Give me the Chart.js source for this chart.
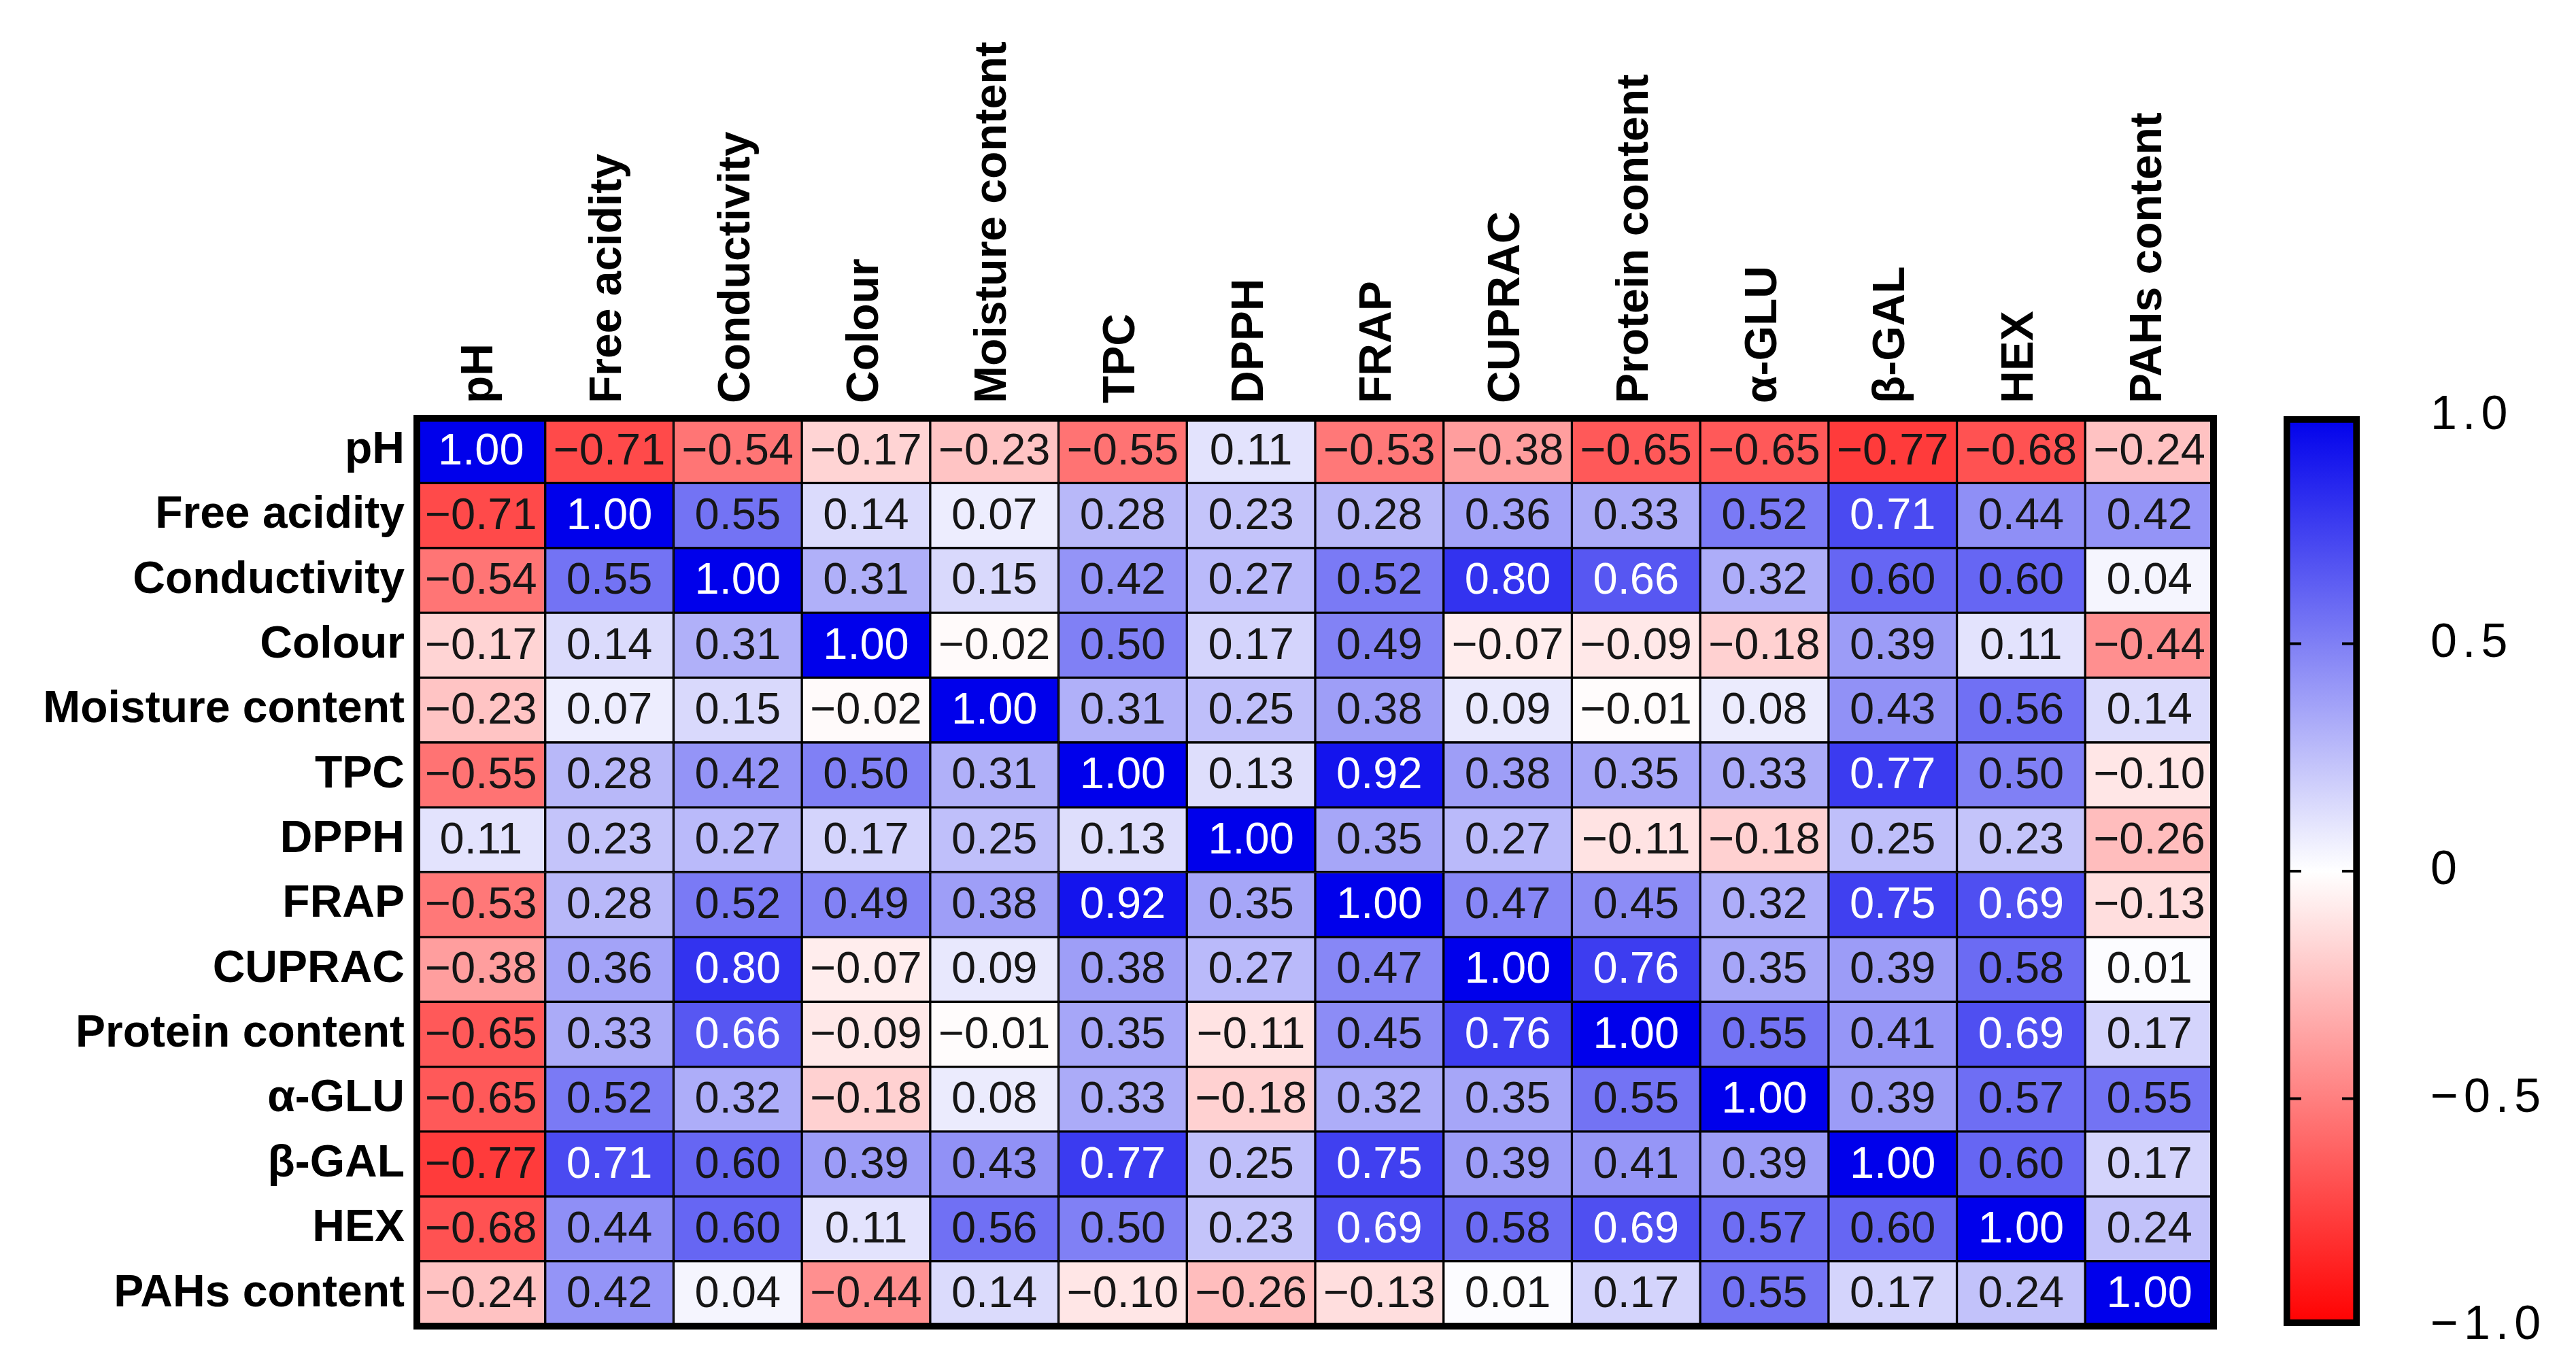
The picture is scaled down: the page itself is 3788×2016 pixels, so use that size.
<!DOCTYPE html>
<html>
<head>
<meta charset="utf-8">
<script src="https://cdn.jsdelivr.net/npm/chart.js@4.4.1/dist/chart.umd.min.js"></script>
<style>
  html, body { margin: 0; padding: 0; background: #fff; }
  #wrap { position: relative; width: 3788px; height: 2016px; overflow: hidden; }
  #heat { position: absolute; left: 0; top: 0; }
  #bar { position: absolute; left: 3300px; top: 466px; }
</style>
</head>
<body>
<div id="wrap">
  <canvas id="heat" width="3300" height="2016"></canvas>
  <canvas id="bar" width="488" height="1630"></canvas>
</div>
<script>
// variable names, same order on both axes
const variables = ['pH', 'Free acidity', 'Conductivity', 'Colour', 'Moisture content', 'TPC', 'DPPH',
    'FRAP', 'CUPRAC', 'Protein content', '\u03b1-GLU', '\u03b2-GAL', 'HEX', 'PAHs content'];

// correlation rows
const pH = [1.00, -0.71, -0.54, -0.17, -0.23, -0.55, 0.11, -0.53, -0.38, -0.65, -0.65, -0.77, -0.68, -0.24];
const freeAcidity = [-0.71, 1.00, 0.55, 0.14, 0.07, 0.28, 0.23, 0.28, 0.36, 0.33, 0.52, 0.71, 0.44, 0.42];
const conductivity = [-0.54, 0.55, 1.00, 0.31, 0.15, 0.42, 0.27, 0.52, 0.80, 0.66, 0.32, 0.60, 0.60, 0.04];
const colour = [-0.17, 0.14, 0.31, 1.00, -0.02, 0.50, 0.17, 0.49, -0.07, -0.09, -0.18, 0.39, 0.11, -0.44];
const moisture = [-0.23, 0.07, 0.15, -0.02, 1.00, 0.31, 0.25, 0.38, 0.09, -0.01, 0.08, 0.43, 0.56, 0.14];
const tpc = [-0.55, 0.28, 0.42, 0.50, 0.31, 1.00, 0.13, 0.92, 0.38, 0.35, 0.33, 0.77, 0.50, -0.10];
const dpph = [0.11, 0.23, 0.27, 0.17, 0.25, 0.13, 1.00, 0.35, 0.27, -0.11, -0.18, 0.25, 0.23, -0.26];
const frap = [-0.53, 0.28, 0.52, 0.49, 0.38, 0.92, 0.35, 1.00, 0.47, 0.45, 0.32, 0.75, 0.69, -0.13];
const cuprac = [-0.38, 0.36, 0.80, -0.07, 0.09, 0.38, 0.27, 0.47, 1.00, 0.76, 0.35, 0.39, 0.58, 0.01];
const protein = [-0.65, 0.33, 0.66, -0.09, -0.01, 0.35, -0.11, 0.45, 0.76, 1.00, 0.55, 0.41, 0.69, 0.17];
const aGlu = [-0.65, 0.52, 0.32, -0.18, 0.08, 0.33, -0.18, 0.32, 0.35, 0.55, 1.00, 0.39, 0.57, 0.55];
const bGal = [-0.77, 0.71, 0.60, 0.39, 0.43, 0.77, 0.25, 0.75, 0.39, 0.41, 0.39, 1.00, 0.60, 0.17];
const hex = [-0.68, 0.44, 0.60, 0.11, 0.56, 0.50, 0.23, 0.69, 0.58, 0.69, 0.57, 0.60, 1.00, 0.24];
const pahs = [-0.24, 0.42, 0.04, -0.44, 0.14, -0.10, -0.26, -0.13, 0.01, 0.17, 0.55, 0.17, 0.24, 1.00];

const matrix = [pH, freeAcidity, conductivity, colour, moisture, tpc, dpph, frap, cuprac, protein, aGlu, bGal, hex, pahs];

// colour scale ticks
const scaleTicks = [-1, -0.5, 0, 0.5, 1];

const FONT = '"Liberation Sans", Arial, sans-serif';

// -1 red, 0 white, +1 blue
function cellColor(v) {
    if (v >= 0) {
        const k = Math.round(255 * (1 - v));
        return `rgb(${k},${k},${Math.round(255 - 20 * v)})`;
    }
    const k = Math.round(255 * (1 + v));
    return `rgb(255,${k},${k})`;
}

function fmt(v) {
    const s = Math.abs(v).toFixed(2);
    return v < 0 ? '\u2212' + s : s;
}

// write the numbers into every cell and frame the grid
const cellText = {
    id: 'cellText',
    afterDatasetsDraw(chart) {
        const ctx = chart.ctx;
        ctx.save();
        ctx.font = `65px ${FONT}`;
        ctx.textAlign = 'center';
        ctx.textBaseline = 'middle';
        chart.data.datasets.forEach((ds, r) => {
            const meta = chart.getDatasetMeta(r);
            meta.data.forEach((bar, c) => {
                const v = matrix[r][c];
                ctx.fillStyle = v > 0.65 ? '#ffffff' : '#161616';
                ctx.fillText(fmt(v), bar.x, (bar.y + bar.base) / 2 + 2);
            });
        });
        const a = chart.chartArea;
        ctx.lineWidth = 10;
        ctx.strokeStyle = '#000';
        ctx.strokeRect(a.left, a.top, a.right - a.left, a.bottom - a.top);
        ctx.restore();
    }
};

new Chart(document.getElementById('heat'), {
    type: 'bar',
    data: {
        labels: variables,
        datasets: matrix.map((row, r) => ({
            label: variables[r],
            data: row.map(() => 1),
            backgroundColor: row.map(v => cellColor(v)),
            borderColor: '#000',
            borderWidth: 2,
            borderSkipped: false,
            barPercentage: 1,
            categoryPercentage: 1
        }))
    },
    options: {
        responsive: false,
        devicePixelRatio: 1,
        animation: false,
        layout: { padding: { left: 0, right: 45, top: 0, bottom: 66 } },
        plugins: { legend: { display: false }, tooltip: { enabled: false } },
        scales: {
            x: {
                position: 'top',
                stacked: true,
                grid: { display: false, drawTicks: false },
                border: { display: false },
                ticks: {
                    minRotation: 90,
                    maxRotation: 90,
                    padding: 22,
                    labelOffset: 78,
                    color: '#000',
                    font: { family: FONT, size: 66, weight: 'bold' }
                },
                afterFit: s => { s.height = 615; }
            },
            y: {
                stacked: true,
                min: 0,
                max: 14,
                reverse: true,
                display: false
            },
            rows: {
                type: 'category',
                axis: 'y',
                position: 'left',
                labels: variables,
                offset: true,
                grid: { display: false, drawTicks: false },
                border: { display: false },
                ticks: {
                    padding: 18,
                    color: '#000',
                    font: { family: FONT, size: 66, weight: 'bold' }
                },
                afterFit: s => { s.width = 613; }
            }
        }
    },
    plugins: [cellText]
});

// colour bar
const barTicks = {
    id: 'barTicks',
    beforeDraw(chart) {
        chart.ctx.letterSpacing = '8px';
    },
    afterDatasetsDraw(chart) {
        const ctx = chart.ctx;
        const y = chart.scales.y;
        const a = chart.chartArea;
        ctx.save();
        ctx.strokeStyle = '#000';
        ctx.lineWidth = 4;
        [-0.5, 0, 0.5].forEach(v => {
            const py = y.getPixelForValue(v);
            ctx.beginPath();
            ctx.moveTo(a.left + 8, py); ctx.lineTo(a.left + 26, py);
            ctx.moveTo(a.right - 8, py); ctx.lineTo(a.right - 26, py);
            ctx.stroke();
        });
        ctx.restore();
    }
};

new Chart(document.getElementById('bar'), {
    type: 'bar',
    data: {
        labels: [''],
        datasets: [{
            data: [[scaleTicks[0], scaleTicks[scaleTicks.length - 1]]],
            backgroundColor: ctx => {
                const a = ctx.chart.chartArea;
                if (!a) return '#fff';
                const g = ctx.chart.ctx.createLinearGradient(0, a.bottom, 0, a.top);
                g.addColorStop(0, cellColor(-1));
                g.addColorStop(0.5, cellColor(0));
                g.addColorStop(1, cellColor(1));
                return g;
            },
            borderColor: '#000',
            borderWidth: 10,
            borderSkipped: false,
            barPercentage: 1,
            categoryPercentage: 1
        }]
    },
    options: {
        responsive: false,
        devicePixelRatio: 1,
        animation: false,
        layout: { padding: { left: 58, right: 0, top: 0, bottom: 0 } },
        plugins: { legend: { display: false }, tooltip: { enabled: false } },
        scales: {
            x: { display: false },
            y: {
                position: 'right',
                min: -1,
                max: 1,
                grid: { display: false, drawTicks: false },
                border: { display: false },
                afterBuildTicks: s => { s.ticks = scaleTicks.map(v => ({ value: v })); },
                ticks: {
                    padding: 104,
                    color: '#000',
                    font: { family: FONT, size: 70 },
                    callback: v => v === 0 ? '0' : (v < 0 ? '\u2212' : '') + Math.abs(v).toFixed(1)
                },
                afterFit: s => { s.width = 318; }
            }
        }
    },
    plugins: [barTicks]
});
</script>
</body>
</html>
